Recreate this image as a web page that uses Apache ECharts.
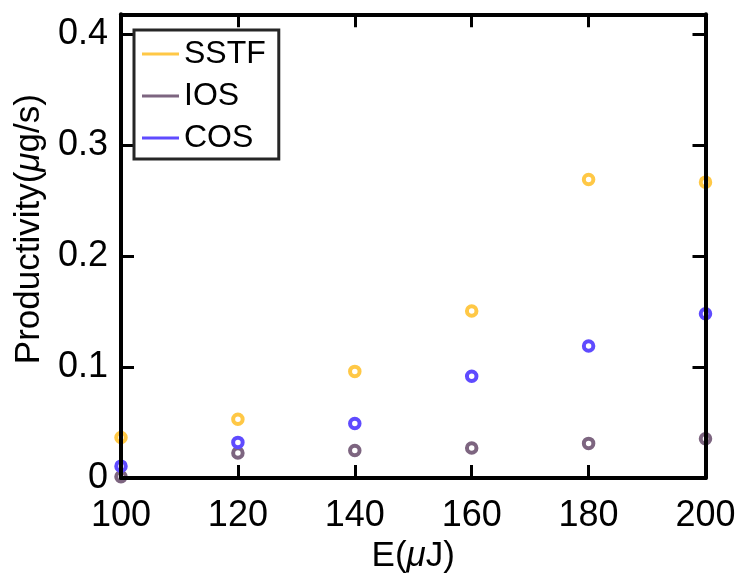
<!DOCTYPE html>
<html>
<head>
<meta charset="utf-8">
<script src="https://cdn.jsdelivr.net/npm/echarts@6/dist/echarts.min.js"></script>
<style>html,body{margin:0;padding:0;background:#fff}#c{width:739px;height:579px}</style>
</head>
<body>
<div id="c"></div>
<script>
const energy = [100, 120, 140, 160, 180, 200];
const sstf = [0.0366, 0.053, 0.0961, 0.1506, 0.269, 0.2667];
const ios  = [0.0012, 0.0226, 0.0247, 0.0271, 0.0312, 0.0354];
const cos  = [0.0107, 0.0321, 0.0491, 0.0917, 0.119, 0.148];
const seriesNames = ['SSTF', 'IOS', 'COS'];
const colors = ['#FFC846', '#7D6580', '#5F4BFF'];
const yTicks = [0, 0.1, 0.2, 0.3, 0.4];

const FONT = 'Arial, "Liberation Sans", sans-serif';
const TICK_FS = 36;
const NAME_FS = 35;
const chart = echarts.init(document.getElementById('c'));
const pairs = arr => energy.map((e, i) => [e, arr[i]]);
const dataSets = [sstf, ios, cos];

function axisCommon() {
  return {
    axisLine: { show: true, onZero: false, lineStyle: { color: '#000', width: 4 } },
    axisTick: { show: true, inside: true, length: 13, lineStyle: { color: '#000', width: 3 } },
    splitLine: { show: false },
    z: 5
  };
}

chart.setOption({
  animation: false,
  backgroundColor: '#fff',
  grid: { left: 121, right: 33.5, top: 14.3, bottom: 97, containLabel: false },
  legend: {
    orient: 'vertical',
    left: 134, top: 30,
    padding: [8, 13, 5, 8],
    backgroundColor: '#fff',
    borderColor: '#262626',
    borderWidth: 3,
    borderRadius: 0,
    itemWidth: 37, itemHeight: 3,
    itemGap: 10,
    itemTextGap: 4,
    icon: 'rect',
    textStyle: { fontFamily: FONT, fontSize: 32, color: '#000', lineHeight: 31 },
    data: seriesNames.map((n, i) => ({ name: n, itemStyle: { color: colors[i], borderWidth: 0 } })),
    z: 10
  },
  xAxis: [
    Object.assign(axisCommon(), {
      type: 'value', position: 'bottom', min: 100, max: 200, interval: 20,
      axisLabel: { fontFamily: FONT, fontSize: TICK_FS, color: '#000', margin: 20 },
      name: 'E({i|μ}J)', nameLocation: 'middle', nameGap: 61,
      nameTextStyle: { fontFamily: FONT, fontSize: NAME_FS, color: '#000',
        rich: { i: { fontFamily: FONT, fontSize: NAME_FS, fontStyle: 'italic', color: '#000' } } }
    }),
    Object.assign(axisCommon(), {
      type: 'value', position: 'top', min: 100, max: 200, interval: 20,
      axisLabel: { show: false }
    })
  ],
  yAxis: [
    Object.assign(axisCommon(), {
      type: 'value', position: 'left', min: 0, max: 0.418, interval: 0.1,
      axisLabel: { fontFamily: FONT, fontSize: TICK_FS, color: '#000', margin: 13, showMaxLabel: false,
        formatter: v => (yTicks.some(t => Math.abs(t - v) < 1e-9) ? String(+v.toFixed(1)) : '') },
      name: 'Productivity({i|μ}g/s)', nameLocation: 'middle', nameGap: 70, nameRotate: 90,
      nameTextStyle: { fontFamily: FONT, fontSize: NAME_FS, color: '#000', padding: [0, 0, 0, 34],
        rich: { i: { fontFamily: FONT, fontSize: NAME_FS, fontStyle: 'italic', color: '#000' } } }
    }),
    Object.assign(axisCommon(), {
      type: 'value', position: 'right', min: 0, max: 0.418, interval: 0.1,
      axisLabel: { show: false }
    })
  ],
  series: seriesNames.map((n, i) => ({
    name: n,
    type: 'scatter',
    xAxisIndex: 0, yAxisIndex: 0,
    clip: false,
    symbol: 'circle',
    symbolSize: 9.5,
    itemStyle: { color: '#fff', borderColor: colors[i], borderWidth: 4, opacity: 1 },
    data: pairs(dataSets[i]),
    z: 2
  }))
});
</script>
</body>
</html>
